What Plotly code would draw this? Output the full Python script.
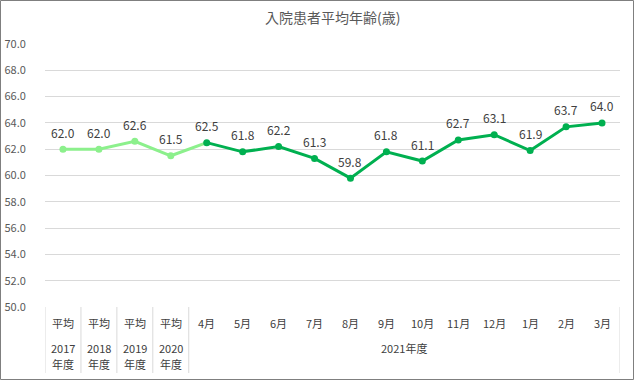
import plotly.graph_objects as go

title_text = "入院患者平均年齢(歳)"
row1_labels = ["平均", "平均", "平均", "平均", "4月", "5月", "6月", "7月", "8月", "9月",
               "10月", "11月", "12月", "1月", "2月", "3月"]
year_labels = ["2017", "2018", "2019", "2020"]
year_suffix = "年度"
group_label = "2021年度"
values = [62.0, 62.0, 62.6, 61.5, 62.5, 61.8, 62.2, 61.3, 59.8, 61.8,
          61.1, 62.7, 63.1, 61.9, 63.7, 64.0]
y_ticks = [50, 52, 54, 56, 58, 60, 62, 64, 66, 68, 70]

W, H = 634, 380
ML, MR, MT, MB = 45, 14, 44, 73
PW, PH = W - ML - MR, H - MT - MB

LIGHT = "#8CF08C"
DARK = "#00B050"
TXT = "#404040"
GRID = "#D9D9D9"
FONT = "Noto Sans CJK JP, Meiryo, sans-serif"

x = list(range(len(values)))
fig = go.Figure()

# Light segment: yearly averages up to April
fig.add_trace(go.Scatter(
    x=x[:5], y=values[:5], mode="lines", line=dict(color=LIGHT, width=3),
    hoverinfo="skip", showlegend=False))
fig.add_trace(go.Scatter(
    x=x[:4], y=values[:4], mode="markers", marker=dict(color=LIGHT, size=7),
    showlegend=False))
# Dark segment: monthly 2021
fig.add_trace(go.Scatter(
    x=x[4:], y=values[4:], mode="lines+markers", line=dict(color=DARK, width=3),
    marker=dict(color=DARK, size=7), showlegend=False))

annotations = []
for xi, v in zip(x, values):
    annotations.append(dict(x=xi, y=v, xref="x", yref="y", text=f"{v:.1f}",
                            showarrow=False, yshift=17,
                            font=dict(size=12, color=TXT, family=FONT)))
for xi, lab in zip(x, row1_labels):
    annotations.append(dict(x=xi, y=0, xref="x", yref="paper", text=lab,
                            showarrow=False, yanchor="middle", yshift=-16,
                            font=dict(size=11, color=TXT, family=FONT)))
for xi, lab in zip(x[:4], year_labels):
    annotations.append(dict(x=xi, y=0, xref="x", yref="paper", text=lab,
                            showarrow=False, yanchor="middle", yshift=-41,
                            font=dict(size=11, color=TXT, family=FONT)))
    annotations.append(dict(x=xi, y=0, xref="x", yref="paper", text=year_suffix,
                            showarrow=False, yanchor="middle", yshift=-57,
                            font=dict(size=11, color=TXT, family=FONT)))
annotations.append(dict(x=(x[4] + x[-1]) / 2, y=0, xref="x", yref="paper",
                        text=group_label, showarrow=False, yanchor="middle",
                        yshift=-41, font=dict(size=11, color=TXT, family=FONT)))
annotations.append(dict(x=0.5, y=1 + (MT - 17) / PH, xref="paper", yref="paper",
                        text=title_text, showarrow=False, yanchor="middle",
                        font=dict(size=14, color="#595959", family=FONT)))

shapes = []
bottom = -(MB - 7) / PH
for xs in [-0.5, 0.5, 1.5, 2.5, 3.5, len(values) - 0.5]:
    shapes.append(dict(type="line", xref="x", yref="paper", x0=xs, x1=xs,
                       y0=0, y1=bottom, line=dict(color=GRID, width=1)))
# outer border
shapes.append(dict(type="rect", xref="paper", yref="paper",
                   x0=(0.5 - ML) / PW, x1=(W - 0.5 - ML) / PW,
                   y0=-(MB - 0.5) / PH, y1=1 + (MT - 0.5) / PH,
                   line=dict(color="#7F7F7F", width=1)))

fig.update_layout(
    width=W, height=H, margin=dict(l=ML, r=MR, t=MT, b=MB, autoexpand=False),
    paper_bgcolor="white", plot_bgcolor="white",
    font=dict(family=FONT, color=TXT),
    xaxis=dict(range=[-0.5, len(values) - 0.5], showticklabels=False,
               showgrid=False, zeroline=False, showline=False, fixedrange=True,
               automargin=False),
    yaxis=dict(range=[50, 70], tickvals=y_ticks,
               ticktext=[f"{t:.1f}" for t in y_ticks],
               showgrid=True, gridcolor=GRID, gridwidth=1, zeroline=False,
               ticks="outside", ticklen=16, tickcolor="rgba(0,0,0,0)",
               tickfont=dict(size=11, color="#595959", family=FONT),
               fixedrange=True, automargin=False),
    annotations=annotations, shapes=shapes,
)

fig.write_html("out.html", config={"displayModeBar": False},
               post_script="document.body.style.margin='0';document.body.style.overflow='hidden';")
